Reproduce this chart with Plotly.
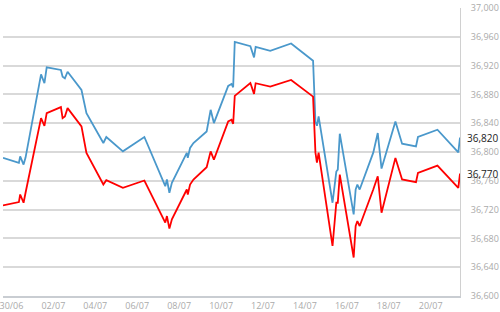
import plotly.graph_objects as go

times = [
    "2012-06-29 14:20", "2012-06-30 08:32", "2012-06-30 10:00", "2012-06-30 13:53", "2012-06-30 16:09",
    "2012-07-01 09:54", "2012-07-01 13:46", "2012-07-01 16:22",
    "2012-07-02 08:38", "2012-07-02 10:34", "2012-07-02 13:11", "2012-07-02 16:16",
    "2012-07-03 08:11", "2012-07-03 13:52",
    "2012-07-04 09:13", "2012-07-04 12:36",
    "2012-07-05 07:37", "2012-07-06 08:11",
    "2012-07-07 08:07", "2012-07-07 10:00", "2012-07-07 12:50", "2012-07-07 15:41",
    "2012-07-08 08:45", "2012-07-08 09:53", "2012-07-08 12:30", "2012-07-08 16:22",
    "2012-07-09 07:30", "2012-07-09 12:03", "2012-07-09 15:48",
    "2012-07-10 08:10", "2012-07-10 11:56", "2012-07-10 13:51", "2012-07-10 15:40",
    "2012-07-11 09:32", "2012-07-11 13:45", "2012-07-11 15:34",
    "2012-07-12 08:18", "2012-07-13 08:11",
    "2012-07-14 09:19", "2012-07-14 12:02", "2012-07-14 13:45", "2012-07-14 15:40",
    "2012-07-15 07:36", "2012-07-15 11:56", "2012-07-15 13:37", "2012-07-15 15:54",
    "2012-07-16 07:48", "2012-07-16 10:05", "2012-07-16 12:02", "2012-07-16 14:40",
    "2012-07-17 06:14", "2012-07-17 11:22", "2012-07-17 15:42",
    "2012-07-18 07:36", "2012-07-18 15:14",
    "2012-07-19 07:08", "2012-07-19 09:25",
    "2012-07-20 07:42", "2012-07-21 07:36", "2012-07-21 09:32",
]

blue_values = [
    36791.8, 36784.9, 36794.0, 36782.5, 36792.2,
    36907.9, 36895.5, 36917.6,
    36913.9, 36904.6, 36902.4, 36911.5,
    36886.2, 36854.0,
    36812.5, 36820.8,
    36800.9, 36820.8,
    36752.5, 36761.8, 36743.4, 36757.2,
    36798.7, 36791.8, 36805.6, 36812.5,
    36828.5, 36858.6, 36840.2,
    36891.7, 36894.5, 36889.9, 36953.0,
    36947.0, 36931.4, 36946.1,
    36940.5, 36950.8,
    36926.7, 36842.0, 36836.4, 36849.6,
    36729.5, 36772.8, 36775.6, 36825.4,
    36713.4, 36747.9, 36754.8, 36747.9,
    36799.1, 36826.3, 36777.0,
    36842.4, 36811.5,
    36807.8, 36820.8,
    36830.9, 36799.5, 36820.0,
]

red_values = [
    36725.8, 36730.4, 36741.0, 36729.5, 36743.4,
    36847.1, 36836.4, 36854.0,
    36862.3, 36847.1, 36849.3, 36860.9,
    36835.5, 36798.7,
    36754.8, 36760.8,
    36750.3, 36760.4,
    36701.9, 36711.0, 36693.6, 36706.5,
    36747.9, 36741.0, 36754.8, 36761.8,
    36778.8, 36800.9, 36789.4,
    36842.4, 36844.7, 36839.2, 36877.9,
    36895.9, 36880.7, 36895.5,
    36890.8, 36900.0,
    36876.9, 36799.1, 36785.3, 36799.1,
    36669.5, 36729.5, 36729.5, 36768.7,
    36653.5, 36697.2, 36704.1, 36697.2,
    36747.9, 36766.3, 36715.7,
    36791.8, 36761.8,
    36758.0, 36771.0,
    36781.1, 36750.3, 36770.0,
]

y_ticks = [36600, 36640, 36680, 36720, 36760, 36800, 36840, 36880, 36920, 36960, 37000]
y_tick_labels = ["36,600", "36,640", "36,680", "36,720", "36,760", "36,800",
                 "36,840", "36,880", "36,920", "36,960", "37,000"]
x_tick_dates = ["2012-06-30", "2012-07-02", "2012-07-04", "2012-07-06", "2012-07-08",
                "2012-07-10", "2012-07-12", "2012-07-14", "2012-07-16", "2012-07-18", "2012-07-20"]
x_tick_labels = ["30/06", "02/07", "04/07", "06/07", "08/07", "10/07",
                 "12/07", "14/07", "16/07", "18/07", "20/07"]

fig = go.Figure()
fig.add_trace(go.Scatter(x=times, y=blue_values, mode="lines",
                         line=dict(color="#4a98cb", width=1.8), hoverinfo="skip"))
fig.add_trace(go.Scatter(x=times, y=red_values, mode="lines",
                         line=dict(color="#ff0000", width=1.8), hoverinfo="skip"))

for val in [blue_values[-1], red_values[-1]]:
    fig.add_annotation(x=1, xref="paper", y=val, yref="y", xanchor="left", xshift=5,
                       text=f"{val:,.0f}", showarrow=False,
                       font=dict(size=10, color="#222222", family="Open Sans"))

fig.update_layout(
    width=500, height=312,
    margin=dict(l=0, r=40, t=8, b=15),
    paper_bgcolor="white", plot_bgcolor="white",
    showlegend=False,
    font=dict(family="Open Sans", size=9, color="#aaaaaa"),
)
fig.update_xaxes(
    range=[times[0], times[-1]],
    tickvals=x_tick_dates, ticktext=x_tick_labels,
    showgrid=False, zeroline=False,
    showline=True, linecolor="#c9cdd2", linewidth=2,
    ticks="", tickfont=dict(size=9, color="#aaaaaa"),
    ticklabeloverflow="allow",
)
fig.update_yaxes(
    side="right", range=[36600, 37000],
    tickvals=y_ticks, ticktext=y_tick_labels,
    showgrid=True, gridcolor="#d9d9d9", gridwidth=1.5,
    zeroline=False, showline=True, linecolor="#d0d0d0", linewidth=1,
    ticks="", ticklabelstandoff=8, tickfont=dict(size=9, color="#aaaaaa"),
)

fig.write_html("out.html")
